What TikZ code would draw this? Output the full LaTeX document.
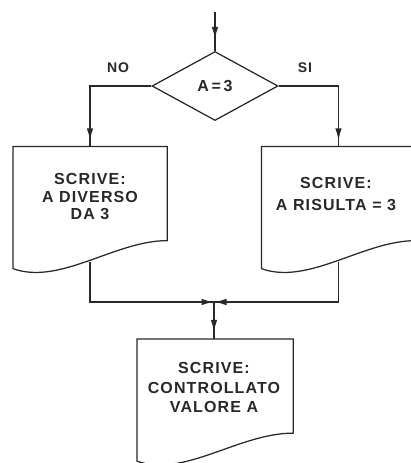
\documentclass[tikz,border=0pt]{standalone}
\usepackage{fontspec}
\setmainfont{Liberation Sans}
\newfontfamily\chartfont[LetterSpace=7]{Liberation Sans}
\usetikzlibrary{shapes.geometric,calc,decorations.markings,arrows.meta}
\definecolor{ink}{RGB}{40,40,40}
\begin{document}
\begin{tikzpicture}[x=1pt,y=1pt,
  color=ink, line width=1.25pt,
  decision/.style={diamond, draw, minimum width=126pt, minimum height=69pt,
    inner sep=0pt, font=\fontsize{16}{18}\selectfont\chartfont\bfseries},
  docbox/.style={rectangle, minimum width=#1, minimum height=121pt, inner sep=0pt},
  doctext/.style={anchor=north, align=center, inner sep=0pt,
    font=\fontsize{16}{#1}\selectfont\chartfont\bfseries},
  tag/.style={inner sep=0pt, font=\fontsize{14}{16}\selectfont\chartfont\bfseries},
  tipat/.style={postaction={decorate}, decoration={markings,
    mark=at position #1 with {\arrow{Latex[length=12pt,width=6.5pt]}}}},
]
\useasboundingbox (0,0) rectangle (411,-463);

% decision
\coordinate (start) at (215,-12);
\node[decision] (dec) at (215,-86) {A\,=\,3};
\node[tag] (no) at (118,-68) {NO};
\node[tag] (si) at (305,-68) {SI};

% output documents
\node[docbox=153pt] (lbox) at (90,-207.5) {};
\node[docbox=153pt] (rbox) at (338.5,-207.5) {};
\node[docbox=155pt] (obox) at (215,-400) {};

\node[doctext=17.5pt] (ltxt) at (90,-173) {SCRIVE:\\A DIVERSO\\DA 3};
\node[doctext=22pt] (rtxt) at (336,-177) {SCRIVE:\\A RISULTA = 3};
\node[doctext=19.5pt] (otxt) at (214,-362) {SCRIVE:\\CONTROLLATO\\VALORE A};

\foreach \b in {lbox,rbox,obox}{
  \draw (\b.north west) -- (\b.north east) -- ($(\b.south east)+(0,28)$)
    .. controls ($(\b.south west)+(102,28)$) and ($(\b.south west)+(47,-17)$)
    .. (\b.south west) -- cycle;
}

% connectors
\coordinate (lout) at ($(lbox.south)+(0,7)$);
\coordinate (rout) at ($(rbox.south)+(0,7)$);
\coordinate (join) at (214,-302);

\draw[tipat=-12pt] (start) -- (dec.north);
\draw[tipat=-6pt] (dec.west) -| (lbox.north);
\draw[tipat=-6pt] (dec.east) -| (rbox.north);
\draw[tipat=-0.5pt] (lout) |- (join);
\draw[tipat=-0.5pt] (rout) |- (join);
\draw[tipat=-7pt] (join) -- (join |- obox.north);
\end{tikzpicture}
\end{document}
